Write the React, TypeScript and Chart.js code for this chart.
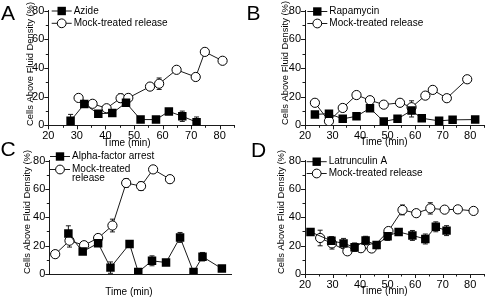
import React, { useEffect, useRef } from "react";
import { Chart, registerables } from "chart.js";

Chart.register(...registerables);

// ---------- Data ----------
// Panel A
const aTreatLabel = ["Azide"];
const aTreatTime = [27.8, 32.6, 37.5, 42.4, 47.2, 52.3, 57.7, 62.2, 66.9, 71.9];
const aTreatValue = [3.1, 14.8, 8.1, 8.5, 15.7, 4, 4, 9.7, 6.3, 2.2];
const aTreatErr = [4.5, 1.5, 2, 2, 1.5, 1, 0.5, 1, 3.6, 3.6];
const aMockLabel = ["Mock-treated release"];
const aMockTime = [30.6, 35.5, 40.4, 45.3, 48, 55.6, 58.8, 64.9, 71.6, 74.8, 81];
const aMockValue = [19.1, 15, 11.9, 18.9, 19.1, 27, 29, 38.7, 33.7, 51.2, 45];
const aMockErr = [0, 0, 0, 3, 0, 0, 4, 0, 0, 2, 0];

// Panel B
const bTreatLabel = ["Rapamycin"];
const bTreatTime = [23.6, 28.7, 33.7, 38.7, 43.6, 48.6, 53.6, 58.7, 62.4, 68.7, 73.6, 81.8];
const bTreatValue = [7.6, 8.1, 4.5, 6.3, 11.9, 2.7, 4.5, 10.3, 4.9, 3.1, 3.8, 4];
const bTreatErr = [0, 0, 0, 0, 0, 0, 0, 4.5, 0, 0, 0, 0];
const bMockLabel = ["Mock-treated release"];
const bMockTime = [23.6, 28.7, 33.7, 38.7, 43.6, 48.6, 54.5, 58.7, 63.7, 66.4, 71.5, 78.9];
const bMockValue = [15.7, 2.9, 12.1, 21.1, 17.5, 14.4, 15.7, 12.6, 20.7, 24.7, 18.9, 32.1];
const bMockErr = [2, 0, 0, 0, 0, 0, 0, 4.5, 0, 0, 0, 0];

// Panel C
const cTreatLabel = ["Alpha-factor arrest"];
const cTreatTime = [25.3, 30.4, 35.9, 40.3, 47.1, 50.2, 55.1, 60.1, 65.1, 69.9, 73.1, 80.0];
const cTreatValue = [28.5, 15.8, 21.7, 4.5, 21.2, 1.4, 9.3, 8.1, 25.8, 1.4, 12.2, 3.8];
const cTreatErr = [5.5, 1.5, 1.5, 4, 1, 0, 3.5, 1, 3.5, 0, 3, 0];
const cMockLabel = ["Mock-treated", "release"];
const cMockTime = [20.6, 25.7, 30.9, 35.9, 41, 45.9, 51.2, 55.5, 61.5];
const cMockValue = [14, 23.5, 20.3, 25.4, 34.2, 64.2, 62, 73.8, 66.9];
const cMockErr = [0, 4.5, 0, 2, 4.5, 3, 3, 2, 2.5];

// Panel D
const dTreatLabel = ["Latrunculin A"];
const dTreatTime = [22, 29.6, 34, 38, 42, 46, 50, 54, 59, 63.7, 67.5, 71.4];
const dTreatValue = [29.7, 23.4, 21.6, 18.9, 23.6, 20.4, 26.7, 29.7, 27.2, 24.7, 33.3, 30.6];
const dTreatErr = [2, 3, 3.5, 3, 3, 2.5, 3, 2, 3.5, 3.5, 3.5, 3.5];
const dMockLabel = ["Mock-treated release"];
const dMockTime = [25.5, 29.8, 35.4, 40.3, 44.2, 50.3, 55.4, 60.4, 65.5, 70.7, 75.5, 81.2];
const dMockValue = [25.4, 21.6, 16, 18.2, 18, 30.3, 45.2, 42.9, 46.3, 45.4, 45.6, 44.5];
const dMockErr = [5.5, 4, 0, 2.5, 0, 2.5, 3.5, 0, 4, 0, 2.5, 2.5];

const yTicksMajor = [0, 20, 40, 60, 80];
const xTicksMajor = [20, 30, 40, 50, 60, 70, 80];
const yTitleText = "Cells Above Fluid Density (%)";
const xTitleText = "Time (min)";

// ---------- Layout ----------
const FONT = '"Liberation Sans", Arial, Helvetica, sans-serif';
const W = 245;
const H = 150;
const INK = "#1a1a1a";

type PanelCfg = {
  letter: string;
  left: number;
  top: number;
  letterPos: { x: number; y: number };
  area: { left: number; right: number; top: number; bottom: number };
  xMin: number;
  xMax: number;
  legend: { x: number; y: number; rows: number[] };
  yTitle: { x: number; y: number };
  xTitle: { x: number; y: number };
  treat: { label: string[]; t: number[]; v: number[]; e: number[] };
  mock: { label: string[]; t: number[]; v: number[]; e: number[] };
};

const panels: PanelCfg[] = [
  {
    letter: "A", left: 0, top: 0, letterPos: { x: 1, y: 2 },
    area: { left: 48.3, right: 234, top: 6.3, bottom: 125.3 },
    xMin: 20, xMax: 85,
    legend: { x: 51.7, y: 11, rows: [0, 12.3] },
    yTitle: { x: 30, y: 64 }, xTitle: { x: 127, y: 143 },
    treat: { label: aTreatLabel, t: aTreatTime, v: aTreatValue, e: aTreatErr },
    mock: { label: aMockLabel, t: aMockTime, v: aMockValue, e: aMockErr },
  },
  {
    letter: "B", left: 245, top: 0, letterPos: { x: 1.5, y: 2 },
    area: { left: 60, right: 242, top: 6.7, bottom: 125.3 },
    xMin: 20, xMax: 85,
    legend: { x: 62.3, y: 11.5, rows: [0, 12] },
    yTitle: { x: 40, y: 63 }, xTitle: { x: 139, y: 142.5 },
    treat: { label: bTreatLabel, t: bTreatTime, v: bTreatValue, e: bTreatErr },
    mock: { label: bMockLabel, t: bMockTime, v: bMockValue, e: bMockErr },
  },
  {
    letter: "C", left: 0, top: 150, letterPos: { x: 0.5, y: -12 },
    area: { left: 49.3, right: 231.7, top: 6.3, bottom: 124 },
    xMin: 18.5, xMax: 83.5,
    legend: { x: 50, y: 6.5, rows: [0, 13] },
    yTitle: { x: 27.5, y: 62 }, xTitle: { x: 129, y: 142 },
    treat: { label: cTreatLabel, t: cTreatTime, v: cTreatValue, e: cTreatErr },
    mock: { label: cMockLabel, t: cMockTime, v: cMockValue, e: cMockErr },
  },
  {
    letter: "D", left: 245, top: 150, letterPos: { x: 6, y: -11 },
    area: { left: 60, right: 243, top: 7, bottom: 124 },
    xMin: 20, xMax: 85,
    legend: { x: 61.7, y: 11.7, rows: [0, 11.8] },
    yTitle: { x: 36, y: 62 }, xTitle: { x: 139, y: 141 },
    treat: { label: dTreatLabel, t: dTreatTime, v: dTreatValue, e: dTreatErr },
    mock: { label: dMockLabel, t: dMockTime, v: dMockValue, e: dMockErr },
  },
];

function drawMarker(ctx: CanvasRenderingContext2D, kind: string, x: number, y: number) {
  if (kind === "rect") {
    ctx.fillStyle = "#000";
    ctx.fillRect(x - 4.2, y - 4.2, 8.4, 8.4);
  } else {
    ctx.beginPath();
    ctx.arc(x, y, 4.4, 0, Math.PI * 2);
    ctx.fillStyle = "#fff";
    ctx.fill();
    ctx.lineWidth = 1;
    ctx.strokeStyle = "#000";
    ctx.stroke();
  }
}

const panelPlugin = {
  id: "panelDecor",
  beforeDatasetsDraw(chart: any) {
    const ctx: CanvasRenderingContext2D = chart.ctx;
    const ys = chart.scales.y;
    const xs = chart.scales.x;
    ctx.save();
    ctx.strokeStyle = INK;
    ctx.lineWidth = 1;
    chart.data.datasets.forEach((ds: any) => {
      const errs: number[] = ds.errors || [];
      ds.data.forEach((p: any, i: number) => {
        const e = errs[i] || 0;
        if (!e) return;
        const px = xs.getPixelForValue(p.x);
        const y1 = ys.getPixelForValue(p.y + e);
        const y2 = ys.getPixelForValue(Math.max(0, p.y - e));
        ctx.beginPath();
        ctx.moveTo(px, y1);
        ctx.lineTo(px, y2);
        ctx.moveTo(px - 2.5, y1);
        ctx.lineTo(px + 2.5, y1);
        ctx.moveTo(px - 2.5, y2);
        ctx.lineTo(px + 2.5, y2);
        ctx.stroke();
      });
    });
    ctx.restore();
  },
  afterDraw(chart: any) {
    const ctx: CanvasRenderingContext2D = chart.ctx;
    const cfg: PanelCfg = chart.options.plugins.panelDecor.cfg;
    const xs = chart.scales.x;
    const ys = chart.scales.y;
    const area = chart.chartArea;
    ctx.save();
    ctx.strokeStyle = INK;
    ctx.lineWidth = 1;
    // axis tick marks (major every 10 / 20, minor between)
    xs.ticks.forEach((t: any) => {
      if (t.value % 5 !== 0) return;
      const px = Math.round(xs.getPixelForValue(t.value)) + 0.5;
      const len = xTicksMajor.includes(t.value) ? 4 : 2.5;
      ctx.beginPath();
      ctx.moveTo(px, area.bottom);
      ctx.lineTo(px, area.bottom + len);
      ctx.stroke();
    });
    ys.ticks.forEach((t: any) => {
      const py = Math.round(ys.getPixelForValue(t.value)) + 0.5;
      const len = yTicksMajor.includes(t.value) ? 4 : 2.5;
      ctx.beginPath();
      ctx.moveTo(area.left, py);
      ctx.lineTo(area.left - len, py);
      ctx.stroke();
    });

    // axis titles
    ctx.fillStyle = "#000";
    ctx.textAlign = "center";
    ctx.textBaseline = "middle";
    ctx.font = `10px ${FONT}`;
    ctx.fillText(xTitleText, cfg.xTitle.x, cfg.xTitle.y);
    ctx.save();
    ctx.translate(cfg.yTitle.x, cfg.yTitle.y);
    ctx.rotate(-Math.PI / 2);
    ctx.font = `9.4px ${FONT}`;
    ctx.fillText(yTitleText, 0, 0);
    ctx.restore();

    // legend
    ctx.font = `10px ${FONT}`;
    ctx.textAlign = "left";
    ctx.textBaseline = "middle";
    const lg = cfg.legend;
    chart.data.datasets.forEach((ds: any, i: number) => {
      const y = lg.y + lg.rows[i];
      ctx.strokeStyle = INK;
      ctx.lineWidth = 1;
      ctx.beginPath();
      ctx.moveTo(lg.x, y);
      ctx.lineTo(lg.x + 20, y);
      ctx.stroke();
      drawMarker(ctx, ds.pointStyle, lg.x + 10, y);
      ctx.fillStyle = "#000";
      const lines: string[] = ds.legendLines;
      lines.forEach((ln, k) => ctx.fillText(ln, lg.x + 22, y + k * 8.6));
    });
    ctx.restore();
  },
};

function Panel({ cfg }: { cfg: PanelCfg }) {
  const ref = useRef<HTMLCanvasElement>(null);
  useEffect(() => {
    const a = cfg.area;
    const chart = new Chart(ref.current as HTMLCanvasElement, {
      type: "scatter",
      data: {
        datasets: [
          {
            label: cfg.treat.label.join(" "),
            legendLines: cfg.treat.label,
            errors: cfg.treat.e,
            data: cfg.treat.t.map((t, i) => ({ x: t, y: cfg.treat.v[i] })),
            showLine: true,
            borderColor: INK,
            borderWidth: 1,
            pointStyle: "rect",
            pointRadius: 6,
            pointBackgroundColor: "#000",
            pointBorderColor: "#000",
            pointBorderWidth: 0,
          } as any,
          {
            label: cfg.mock.label.join(" "),
            legendLines: cfg.mock.label,
            errors: cfg.mock.e,
            data: cfg.mock.t.map((t, i) => ({ x: t, y: cfg.mock.v[i] })),
            showLine: true,
            borderColor: INK,
            borderWidth: 1,
            pointStyle: "circle",
            pointRadius: 4.6,
            pointBackgroundColor: "#fff",
            pointBorderColor: "#000",
            pointBorderWidth: 1,
          } as any,
        ],
      },
      options: {
        responsive: false,
        animation: false,
        events: [],
        layout: { padding: { top: a.top, right: W - a.right, left: 0, bottom: 0 } },
        plugins: {
          legend: { display: false },
          tooltip: { enabled: false },
          panelDecor: { cfg },
        } as any,
        scales: {
          x: {
            type: "linear",
            min: cfg.xMin,
            max: cfg.xMax,
            afterFit: (s: any) => {
              s.height = H - a.bottom;
            },
            ticks: {
              stepSize: 5,
              autoSkip: false,
              maxRotation: 0,
              maxTicksLimit: 100,
              padding: 4,
              color: "#000",
              font: { family: FONT, size: 11 },
              callback: (v: any) => (xTicksMajor.includes(v) ? String(v) : ""),
            },
            grid: { display: true, drawOnChartArea: false, drawTicks: false },
            border: { display: true, color: INK, width: 1 },
          },
          y: {
            type: "linear",
            min: 0,
            max: 80,
            afterFit: (s: any) => {
              s.width = a.left;
            },
            ticks: {
              stepSize: 10,
              autoSkip: false,
              padding: 4,
              color: "#000",
              font: { family: FONT, size: 11 },
              callback: (v: any) => (yTicksMajor.includes(v) ? String(v) : ""),
            },
            grid: { display: true, drawOnChartArea: false, drawTicks: false },
            border: { display: true, color: INK, width: 1 },
          },
        },
      } as any,
      plugins: [panelPlugin],
    });
    return () => chart.destroy();
  }, [cfg]);

  return (
    <div style={{ position: "absolute", left: cfg.left, top: cfg.top, width: W, height: H }}>
      <canvas ref={ref} width={W} height={H} style={{ width: W, height: H, display: "block" }} />
      <div
        style={{
          position: "absolute",
          left: cfg.letterPos.x,
          top: cfg.letterPos.y,
          fontFamily: FONT,
          fontSize: 21,
          lineHeight: "21px",
          color: "#000",
          pointerEvents: "none",
        }}
      >
        {cfg.letter}
      </div>
    </div>
  );
}

export default function App() {
  return (
    <div
      style={{
        position: "absolute",
        left: 0,
        top: 0,
        width: 490,
        height: 300,
        background: "#fff",
        overflow: "hidden",
      }}
    >
      {panels.map((p) => (
        <Panel key={p.letter} cfg={p} />
      ))}
    </div>
  );
}
